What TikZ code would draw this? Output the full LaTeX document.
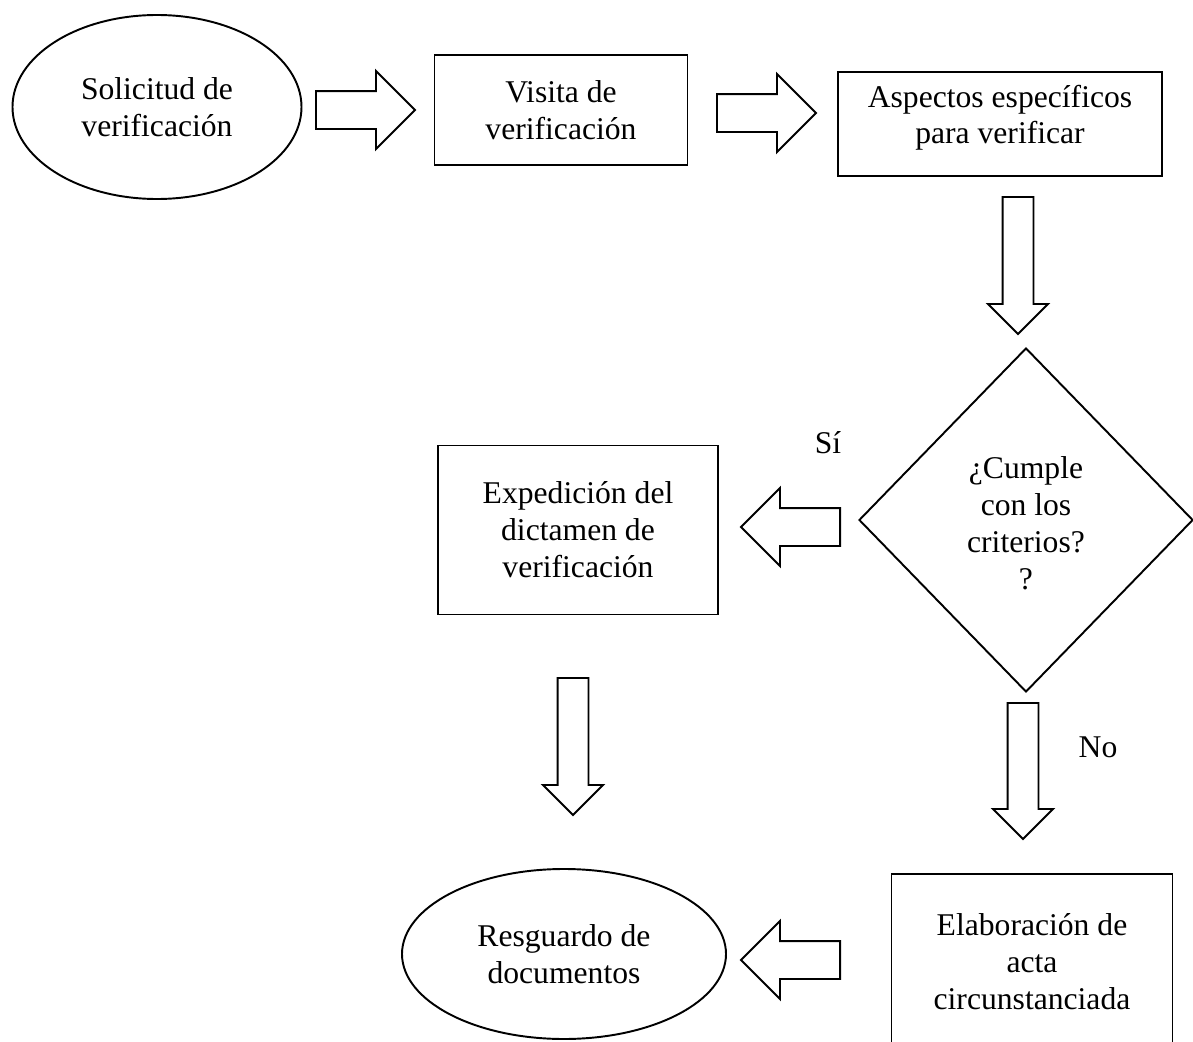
\documentclass[tikz,border=0pt]{standalone}
\usepackage{fontspec}
\setmainfont{Liberation Serif}
\usetikzlibrary{shapes.geometric,shapes.arrows}

\begin{document}
\begin{tikzpicture}[line width=1.1pt,
  every node/.style={font=\fontsize{18}{21}\selectfont,align=center},
  caja/.style={draw,rectangle,inner sep=0pt},
  elipse/.style={draw,ellipse,inner sep=0pt},
  flechah/.style={draw,single arrow,anchor=tail,inner xsep=0pt,inner ysep=0.36cm,single arrow head extend=0.4cm,minimum height=1.98cm},
  flechav/.style={draw,single arrow,anchor=tail,rotate=-90,inner xsep=0pt,inner ysep=0.29cm,single arrow head extend=0.29cm,minimum height=2.74cm}]
\useasboundingbox (0,0) rectangle (23.86,-20.84);
\clip (0,0) rectangle (23.86,-20.84);
\node[elipse,minimum width=5.78cm,minimum height=3.68cm] (1)at(3.14,-2.14){Solicitud de\\verificación};
\node[caja,minimum width=5.06cm,minimum height=2.2cm] (2)at(11.22,-2.2){Visita de\\verificación};
\node[caja,minimum width=6.48cm,minimum height=2.08cm,text depth=11pt] (3)at(20,-2.48){Aspectos específicos\\para verificar};
\node[draw,diamond,inner sep=0pt,minimum width=6.68cm,minimum height=6.88cm] (4)at(20.52,-10.4){};
\node at(20.52,-10.46) {¿Cumple\\con los\\criterios?\\?};
\node[caja,minimum width=5.6cm,minimum height=3.38cm] (5)at(11.56,-10.6){Expedición del\\dictamen de\\verificación};
\node[elipse,minimum width=6.48cm,minimum height=3.4cm] (6)at(11.28,-19.08){Resguardo de\\documentos};
\node[caja,anchor=north,minimum width=5.62cm,inner ysep=0.8cm,text depth=3cm] (7)at(20.64,-17.46){Elaboración de\\acta\\circunstanciada};
\node[flechah] (a1)at(6.3,-2.2){};
\node[flechah] (a2)at(14.32,-2.26){};
\node[flechav] (a3)at(20.36,-3.92){};
\node[flechah,rotate=180] (a4)at(16.82,-10.54){};
\node[flechav] (a5)at(11.46,-13.54){};
\node[flechav,minimum height=2.72cm] (a6)at(20.46,-14.04){};
\node[flechah,rotate=180] (a7)at(16.82,-19.2){};
\node at(16.56,-8.86) {Sí};
\node at(21.96,-14.94) {No};
\end{tikzpicture}
\end{document}
